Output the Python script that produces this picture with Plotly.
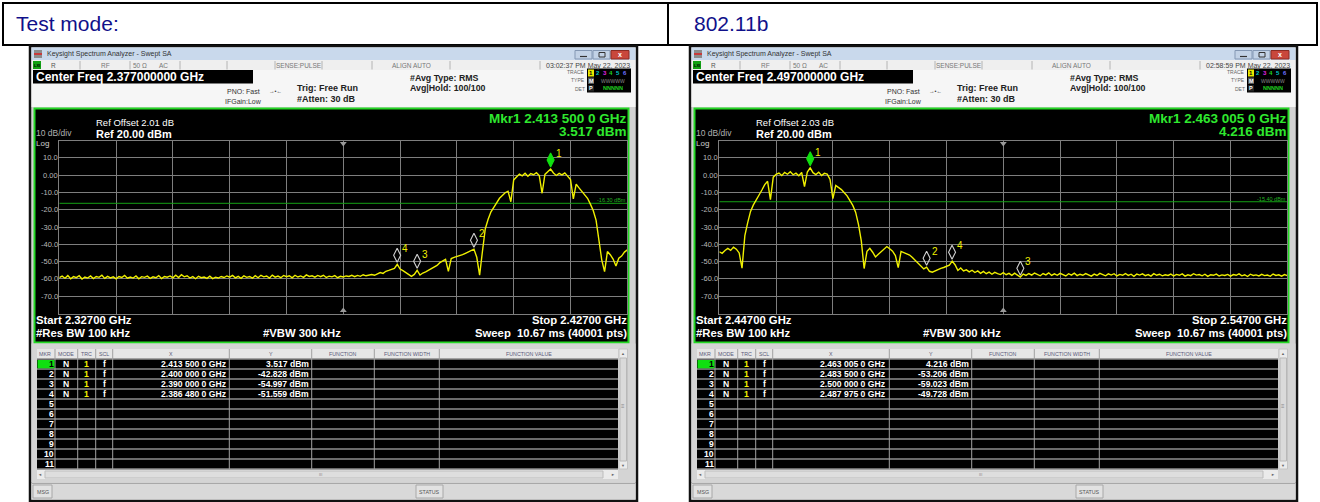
import numpy as np
import plotly.graph_objects as go

W, H = 1320, 502
FONT = "Liberation Sans, Arial, sans-serif"

# ---------------- report header ----------------
mode_label = "Test mode:"
mode_value = "802.11b"

# ---------------- sweep settings ----------------
left_span = (2.327, 2.427)     # GHz
right_span = (2.447, 2.547)    # GHz
left_center_text = "2.377000000 GHz"
right_center_text = "2.497000000 GHz"
left_start_text, left_stop_text = "2.32700 GHz", "2.42700 GHz"
right_start_text, right_stop_text = "2.44700 GHz", "2.54700 GHz"
left_ref_offset = "2.01 dB"
right_ref_offset = "2.03 dB"
left_clock = "03:02:37 PM May 22, 2023"
right_clock = "02:58:59 PM May 22, 2023"
left_display_line = -16.30
right_display_line = -15.40

ytick_vals = [10, 0, -10, -20, -30, -40, -50, -60, -70]
ytick_text = ["10.0", "0.00", "-10.0", "-20.0", "-30.0", "-40.0", "-50.0", "-60.0", "-70.0"]

# ---------------- trace levels (dBm), 0.5 MHz apart ----------------
left_level = [
    -59.2, -58.4, -59.6, -58.1, -59.9, -58.7, -59.3, -58.2, -60.1, -58.9,
    -59.5, -58.3, -59.8, -58.6, -59.1, -57.9, -59.7, -58.5, -59.4, -58.8,
    -60.0, -58.6, -59.2, -58.0, -59.6, -58.9, -59.5, -58.3, -59.9, -58.7,
    -59.1, -58.4, -59.7, -58.8, -59.3, -58.1, -59.8, -58.6, -59.0, -58.3,
    -59.4, -57.9, -59.2, -57.6, -58.8, -58.2, -59.5, -58.7, -59.9, -58.5,
    -59.3, -58.9, -59.7, -58.4, -59.8, -59.0, -59.5, -58.6, -59.2, -58.3,
    -59.0, -58.0, -59.4, -58.5, -59.7, -58.2, -59.1, -58.6, -59.6, -58.1,
    -59.3, -57.9, -58.8, -58.3, -59.5, -57.8, -59.0, -58.4, -59.3, -58.0,
    -58.7, -58.2, -59.4, -57.9, -58.9, -58.3, -59.1, -57.7, -58.6, -58.2,
    -59.0, -58.0, -58.7, -57.9, -59.2, -58.4, -58.8, -58.1, -59.3, -58.5,
    -58.9, -58.3, -58.6, -57.9, -58.7, -58.0, -58.5, -57.6, -58.2, -57.8,
    -57.5, -57.9, -56.9, -56.3, -56.8, -55.6, -55.1, -54.4, -54.0, -51.6,
    -54.3, -55.2, -56.4, -57.3, -58.5, -57.4, -55.0, -57.8, -56.6, -56.0,
    -55.1, -54.0, -52.9, -52.2, -50.6, -49.8, -48.7, -55.6, -48.2, -47.6,
    -47.1, -46.8, -46.0, -45.2, -44.3, -43.5, -42.8, -47.5, -57.8, -44.0,
    -31.0, -25.5, -21.2, -18.6, -16.0, -13.4, -11.8, -10.2, -9.3, -15.4,
    -2.8, -1.0, 0.6, -0.4, 1.1, -0.7, 0.9, 0.2, 1.4, -0.3,
    -10.5, 0.4, 1.8, 3.517, 1.2, -0.2, 1.0, 0.1, 1.3, -0.6,
    -2.5, -13.8, -5.2, -7.4, -9.2, -11.0, -13.4, -16.8, -20.5, -26.0,
    -37.5, -49.0, -55.8, -44.2, -46.0, -48.5, -52.6, -48.0, -46.8, -44.5, -43.2,
]
right_level = [
    -44.3, -45.2, -43.6, -42.4, -43.5, -41.6, -42.8, -45.0, -53.8, -35.0,
    -27.5, -21.0, -17.2, -14.0, -11.5, -8.6, -5.5, -3.6, -14.2, -1.2,
    0.4, 1.2, -0.3, 1.6, 0.5, 1.9, 0.2, 1.1, -0.4, 1.5,
    -6.7, 1.8, 4.216, 1.4, 0.3, 1.7, -0.2, 1.0, 0.6, -2.5,
    -13.6, -6.0, -7.0, -8.4, -10.2, -12.0, -14.8, -17.5, -21.4, -28.5,
    -38.0, -54.0, -44.0, -42.3, -44.6, -47.3, -45.8, -44.2, -42.8, -41.3,
    -42.6, -44.0, -46.5, -53.5, -44.1, -44.8, -45.3, -46.2, -47.6, -49.3,
    -51.4, -53.1, -54.2, -53.2, -55.6, -56.1, -55.2, -54.6, -53.9, -53.4,
    -52.7, -52.0, -49.7, -51.8, -55.1, -53.7, -55.4, -54.8, -55.9, -55.0,
    -56.3, -55.4, -56.8, -55.7, -57.0, -56.1, -57.3, -56.2, -56.9, -57.5,
    -56.4, -57.6, -56.8, -57.9, -56.7, -58.1, -59.0, -57.2, -58.0, -56.9,
    -57.8, -56.6, -57.4, -58.2, -56.9, -57.7, -56.5, -58.0, -57.1, -57.9,
    -56.8, -57.6, -58.3, -57.0, -57.8, -56.7, -58.1, -57.3, -57.9, -56.9,
    -57.7, -58.4, -57.2, -58.0, -56.8, -57.5, -58.2, -57.1, -57.8, -57.0,
    -58.3, -57.4, -57.9, -56.9, -58.0, -57.3, -58.5, -57.2, -57.8, -57.1,
    -58.1, -57.5, -58.4, -57.0, -57.9, -57.3, -58.2, -57.6, -58.0, -57.2,
    -58.3, -57.4, -57.9, -57.1, -58.4, -57.6, -58.1, -57.0, -57.8, -57.5,
    -58.2, -57.3, -58.5, -57.6, -57.9, -57.2, -58.3, -57.7, -58.0, -57.4,
    -58.4, -57.5, -57.9, -57.1, -58.2, -57.6, -58.6, -57.3, -58.0, -57.7,
    -58.3, -57.4, -58.1, -57.8, -58.5, -57.2, -58.0, -57.6, -58.4, -57.5, -58.1,
]

# ---------------- markers ----------------
mkr_names = ["1", "2", "3", "4"]
left_mkr_freq = [2.4135, 2.400, 2.390, 2.38648]
left_mkr_level = [3.517, -42.828, -54.997, -51.559]
left_mkr_x_text = ["2.413 500 0 GHz", "2.400 000 0 GHz", "2.390 000 0 GHz", "2.386 480 0 GHz"]
left_mkr_y_text = ["3.517 dBm", "-42.828 dBm", "-54.997 dBm", "-51.559 dBm"]
right_mkr_freq = [2.463005, 2.4835, 2.500, 2.487975]
right_mkr_level = [4.216, -53.206, -59.023, -49.728]
right_mkr_x_text = ["2.463 005 0 GHz", "2.483 500 0 GHz", "2.500 000 0 GHz", "2.487 975 0 GHz"]
right_mkr_y_text = ["4.216 dBm", "-53.206 dBm", "-59.023 dBm", "-49.728 dBm"]
table_rows = [str(k) for k in range(1, 12)]

# ---------------- drawing helpers (pixel -> paper) ----------------
shapes, annotations = [], []


def px(x):
    return x / W


def py(y):
    return 1 - y / H


def rect(x0, y0, x1, y1, fill="rgba(0,0,0,0)", line=None, lw=0):
    shapes.append(dict(type="rect", xref="paper", yref="paper", layer="below",
                       x0=px(x0), x1=px(x1), y0=py(y1), y1=py(y0), fillcolor=fill,
                       line=dict(color=line or "rgba(0,0,0,0)", width=lw if line else 0)))


def hline(x0, x1, y, color, lw=1):
    shapes.append(dict(type="line", xref="paper", yref="paper", layer="below",
                       x0=px(x0), x1=px(x1), y0=py(y), y1=py(y), line=dict(color=color, width=lw)))


def vline(x, y0, y1, color, lw=1):
    shapes.append(dict(type="line", xref="paper", yref="paper", layer="below",
                       x0=px(x), x1=px(x), y0=py(y0), y1=py(y1), line=dict(color=color, width=lw)))


def text(x, y, s, size=8, color="#000", bold=False, anchor="left", family=FONT):
    if bold:
        s = "<b>" + s + "</b>"
    annotations.append(dict(xref="paper", yref="paper", x=px(x), y=py(y), text=s, showarrow=False,
                            xanchor=anchor, yanchor="middle", borderpad=0, borderwidth=0,
                            font=dict(size=size, color=color, family=family)))


# ---------------- report header table ----------------
rect(3, 3, 1317, 45, line="#000", lw=2)
vline(668, 3, 45, "#000", 2)
text(16, 24, mode_label, 21, "#10108a")
text(694, 24, mode_value, 21, "#10108a")

fig = go.Figure()

GRID_L, GRID_R, GRID_T, GRID_B = 59.3, 627.3, 140.5, 313.5
MK_OFF = 5.2  # dB: marker diamond sits just above its point
GREEN = "#2fe82f"


def panel(o, suffix, span, levels, m_f, m_l, m_xt, m_yt, center_txt, start_txt, stop_txt,
          ref_off, clock, disp):
    xa, ya = "x" + suffix, "y" + suffix
    # window frame
    rect(o + 30, 46, o + 637, 501, fill="#d2d2d2", line="#111", lw=2.5)
    # title bar
    rect(o + 31.5, 47.5, o + 635.5, 60, fill="#c9d9ec")
    rect(o + 34, 50, o + 42, 58, fill="#8c8c8c")
    rect(o + 34, 53, o + 42, 55, fill="#c83a3a")
    text(o + 47, 54, "Keysight Spectrum Analyzer - Swept SA", 7, "#333")
    rect(o + 575, 50.5, o + 592, 59, fill="#c2d2e6", line="#8397b3", lw=1)
    hline(o + 580, o + 587, 56.5, "#333", 1.2)
    rect(o + 593, 50.5, o + 610, 59, fill="#c2d2e6", line="#8397b3", lw=1)
    rect(o + 599, 52.5, o + 605, 57, line="#333", lw=1)
    rect(o + 611, 50.5, o + 629, 59, fill="#c9473c", line="#8b2a22", lw=1)
    text(o + 620, 54.8, "x", 7, "#fff", True, "center")
    # status row
    rect(o + 31.5, 60, o + 635.5, 70, fill="#efefef")
    for xd in [80, 130, 180, 227, 275, 322, 372, 450, 540]:
        vline(o + xd, 61, 69.5, "#b4b4b4")
    rect(o + 33, 61, o + 41, 69, fill="#12a012")
    text(o + 37, 65.2, "LXI", 4, "#000", True, "center")
    text(o + 51, 65.5, "R", 6.5, "#555")
    text(o + 105, 65.5, "RF", 6.5, "#777", anchor="center")
    text(o + 140, 65.5, "50 \u03a9", 6.5, "#777", anchor="center")
    text(o + 163, 65.5, "AC", 6.5, "#777", anchor="center")
    text(o + 298.5, 65.5, "SENSE:PULSE", 6.5, "#777", anchor="center")
    text(o + 411, 65.5, "ALIGN AUTO", 6.5, "#777", anchor="center")
    text(o + 630, 65.5, clock, 7, "#444", anchor="right")
    # settings header
    rect(o + 31.5, 70, o + 635.5, 107, fill="#f6f6f6")
    rect(o + 33, 70, o + 253, 83.5, fill="#000")
    text(o + 36, 76.8, "Center Freq " + center_txt, 12, "#fff", True)
    text(o + 227, 91, "PNO: Fast", 7, "#333")
    text(o + 225, 101, "IFGain:Low", 7, "#333")
    text(o + 275, 91, "\u2192\u2022\u2190", 5.5, "#333", anchor="center")
    text(o + 297, 88, "Trig: Free Run", 9, "#222", True)
    text(o + 297, 98.5, "#Atten: 30 dB", 9, "#222", True)
    text(o + 410, 78, "#Avg Type: RMS", 8.8, "#222", True)
    text(o + 410, 88.3, "Avg|Hold: 100/100", 8.8, "#222", True)
    text(o + 585, 72.5, "TRACE", 5, "#666", anchor="right")
    text(o + 585, 80.5, "TYPE", 5, "#666", anchor="right")
    text(o + 585, 88.5, "DET", 5, "#666", anchor="right")
    rect(o + 587, 68.5, o + 631, 92.5, fill="#000")
    rect(o + 588, 69.5, o + 594, 76.5, fill="#e8e800")
    text(o + 591, 73, "1", 6, "#000", True, "center")
    for k, col in enumerate(["#00c8c8", "#e020e0", "#20d020", "#00c8c8", "#7070ff"]):
        text(o + 598 + 6.7 * k, 73, str(k + 2), 6, col, True, "center")
    rect(o + 588, 77.5, o + 594, 84, fill="#555")
    text(o + 591, 80.8, "M", 5.5, "#fff", True, "center")
    text(o + 612.5, 80.8, "WWWWW", 5, "#8a8a8a", anchor="center")
    rect(o + 588, 85, o + 594, 91.5, fill="#222")
    text(o + 591, 88.3, "P", 5.5, "#fff", True, "center")
    text(o + 612.5, 88.3, "NNNNN", 5.5, "#20d020", True, "center")
    # graph area
    rect(o + 34.5, 108.5, o + 628.5, 342.5, fill="#000", line="#25d825", lw=2)
    text(o + 96, 122.3, "Ref Offset " + ref_off, 9.5, "#fff")
    text(o + 96, 134, "Ref 20.00 dBm", 11, "#fff", True)
    text(o + 36, 133.2, "10 dB/div", 8.5, "#b0b0b0")
    text(o + 36, 143.6, "Log", 8, "#d0d0d0")
    text(o + 627, 118, "Mkr1 " + m_xt[0], 13.5, GREEN, True, "right")
    text(o + 627, 131, m_yt[0], 13.5, GREEN, True, "right")
    text(o + 36, 320, "Start " + start_txt, 11.3, "#fff", True)
    text(o + 36, 333, "#Res BW 100 kHz", 11.3, "#fff", True)
    text(o + 341, 333, "#VBW 300 kHz", 11.3, "#fff", True, "right")
    text(o + 627, 320, "Stop " + stop_txt, 11.3, "#fff", True, "right")
    text(o + 627, 333, "Sweep&nbsp; 10.67 ms (40001 pts)", 11.3, "#fff", True, "right")
    for v, t in zip(ytick_vals, ytick_text):
        annotations.append(dict(xref="paper", yref=ya, x=px(o + 57.5), y=v, text=t, showarrow=False,
                                xanchor="right", yanchor="middle", borderpad=0, borderwidth=0,
                                font=dict(size=7.5, color="#b8b8b8", family=FONT)))
    # display line
    shapes.append(dict(type="line", xref=xa, yref=ya, x0=span[0], x1=span[1], y0=disp, y1=disp,
                       line=dict(color="#14a014", width=1), layer="between"))
    annotations.append(dict(xref="paper", yref=ya, x=px(o + 626), y=disp, yshift=3,
                            text="%.2f dBm" % disp, showarrow=False, xanchor="right",
                            yanchor="middle", borderpad=0, borderwidth=0,
                            font=dict(size=5.5, color="#22b022", family=FONT)))
    # marker table
    rect(o + 31.5, 343.5, o + 635.5, 482, fill="#d4d4d4")
    rect(o + 37, 349, o + 618, 358.5, fill="#e6e6e6")
    rect(o + 37, 359, o + 618, 469, fill="#000")
    for k in range(12):
        hline(o + 37, o + 618, 359 + 10 * k, "#8e8e8e", 1.6)
    for xd in [55, 77.7, 95.7, 112.7, 229.3, 311.7, 374.3, 439.3]:
        vline(o + xd, 349, 469, "#a0a0a0", 1)
    for lbl, xc in [("MKR", 45), ("MODE", 66.3), ("TRC", 86.7), ("SCL", 104.2), ("X", 171),
                    ("Y", 270.5), ("FUNCTION", 343), ("FUNCTION WIDTH", 406.8),
                    ("FUNCTION VALUE", 529)]:
        text(o + xc, 353.8, lbl, 5.3, "#5a5a7a", anchor="center")
    rect(o + 37.5, 360, o + 54.5, 368.3, fill="#10e010")
    for k, lbl in enumerate(table_rows):
        yc = 364.2 + 10 * k
        text(o + 53.5, yc, lbl, 8.6, "#000" if k == 0 else "#fff", True, "right")
        if k < len(m_xt):
            text(o + 66.3, yc, "N", 8.6, "#fff", True, "center")
            text(o + 86.7, yc, "1", 8.6, "#f0f000", True, "center")
            text(o + 104.2, yc, "f", 8.6, "#fff", True, "center")
            text(o + 225.5, yc, m_xt[k], 8.6, "#fff", True, "right")
            text(o + 308.5, yc, m_yt[k], 8.6, "#fff", True, "right")
    rect(o + 619, 349, o + 627.5, 469, fill="#ebebeb", line="#c4c4c4", lw=1)
    rect(o + 620, 358, o + 626.5, 461, fill="#dadada", line="#b8b8b8", lw=1)
    text(o + 623.2, 353, "\u25b2", 4, "#666", anchor="center")
    text(o + 623.2, 465.5, "\u25bc", 4, "#666", anchor="center")
    text(o + 623.2, 406, "\u2261", 6, "#888", anchor="center")
    rect(o + 37, 470, o + 618, 479, fill="#ebebeb")
    rect(o + 45, 471, o + 603, 478, fill="#dedede", line="#bdbdbd", lw=1)
    text(o + 40, 474.5, "\u25c4", 4, "#666", anchor="center")
    text(o + 613, 474.5, "\u25ba", 4, "#666", anchor="center")
    text(o + 320, 474.5, "III", 4, "#888", anchor="center")
    # status bar
    rect(o + 31.5, 483, o + 635.5, 499.5, fill="#d9d9d9")
    hline(o + 31.5, o + 635.5, 483.5, "#a8a8a8", 1)
    rect(o + 33, 485, o + 52, 498, fill="#e2e2e2", line="#a8a8a8", lw=1)
    text(o + 42.5, 491.5, "MSG", 5.3, "#555", anchor="center")
    rect(o + 416, 485, o + 443, 498, fill="#e2e2e2", line="#a8a8a8", lw=1)
    text(o + 429.5, 491.5, "STATUS", 5.3, "#555", anchor="center")

    # ----- plotted data -----
    freqs = np.linspace(span[0], span[1], len(levels))
    fig.add_trace(go.Scatter(x=freqs, y=levels, xaxis=xa, yaxis=ya, mode="lines",
                             line=dict(color="#f0f000", width=1.4), hoverinfo="skip",
                             showlegend=False))
    center = (span[0] + span[1]) / 2
    fig.add_trace(go.Scatter(x=[center, center], y=[18.3, -78.3], xaxis=xa, yaxis=ya,
                             mode="markers", showlegend=False, hoverinfo="skip",
                             marker=dict(symbol=["triangle-down", "triangle-up"], size=6,
                                         color="#9a9a9a")))
    fig.add_trace(go.Scatter(x=m_f, y=[v + MK_OFF for v in m_l], xaxis=xa, yaxis=ya,
                             mode="markers", showlegend=False, hoverinfo="skip", cliponaxis=False,
                             marker=dict(symbol=["diamond-tall"] + ["diamond-tall-open"] * 3,
                                         size=10,
                                         color=["#10e010"] + ["#d0d0d0"] * 3,
                                         line=dict(width=1.1,
                                                   color=["#10e010"] + ["#d0d0d0"] * 3))))
    for name, f, v in zip(mkr_names, m_f, m_l):
        annotations.append(dict(xref=xa, yref=ya, x=f, y=v + MK_OFF, xshift=8, yshift=6.5,
                                text=name, showarrow=False, xanchor="center", yanchor="middle",
                                font=dict(size=10, color="#f0f000", family=FONT)))

    axis_common = dict(showgrid=True, gridcolor="#7e7e7e", gridwidth=1, zeroline=False,
                       showline=True, mirror=True, linecolor="#7e7e7e", linewidth=1,
                       ticks="", showticklabels=False, fixedrange=True)
    step = (span[1] - span[0]) / 10
    fig.update_layout({
        "xaxis" + suffix: dict(domain=[px(o + GRID_L), px(o + GRID_R)], range=list(span),
                               tickvals=[span[0] + step * k for k in range(1, 10)],
                               anchor=ya, **axis_common),
        "yaxis" + suffix: dict(domain=[py(GRID_B), py(GRID_T)], range=[-80, 20],
                               tickvals=ytick_vals, anchor=xa, **axis_common),
    })


panel(0, "", left_span, left_level, left_mkr_freq, left_mkr_level, left_mkr_x_text,
      left_mkr_y_text, left_center_text, left_start_text, left_stop_text, left_ref_offset,
      left_clock, left_display_line)
panel(660, "2", right_span, right_level, right_mkr_freq, right_mkr_level, right_mkr_x_text,
      right_mkr_y_text, right_center_text, right_start_text, right_stop_text, right_ref_offset,
      right_clock, right_display_line)

fig.update_layout(width=W, height=H, autosize=False, margin=dict(l=0, r=0, t=0, b=0),
                  paper_bgcolor="#ffffff", plot_bgcolor="#000000",
                  shapes=shapes, annotations=annotations, showlegend=False)
fig.write_html("out.html", config={"displayModeBar": False})
